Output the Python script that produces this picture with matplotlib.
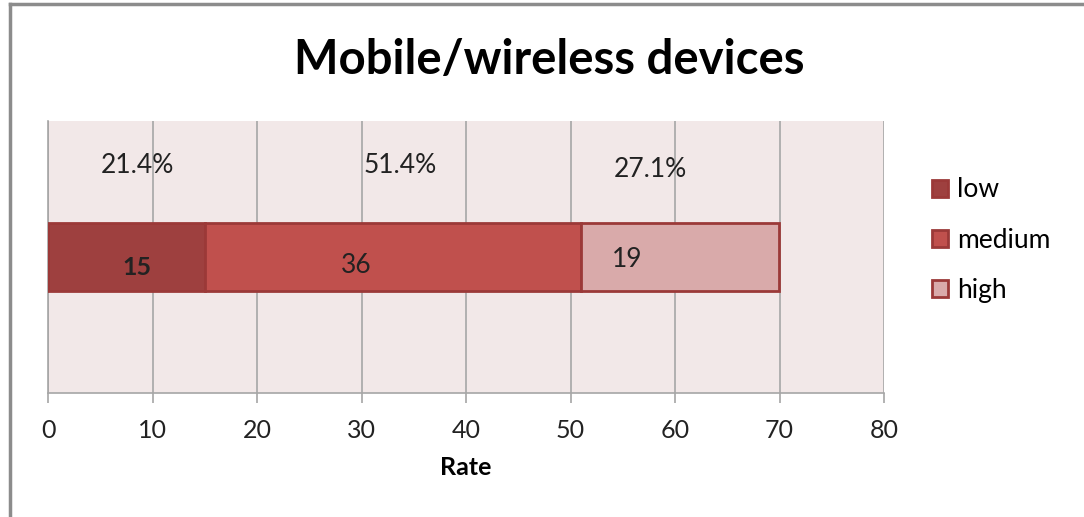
import matplotlib.pyplot as plt

# data
categories = ["low", "medium", "high"]
counts = [15, 36, 19]
percent_labels = ["21.4%", "51.4%", "27.1%"]

# label placement (data units)
pct_x = [8.6, 33.7, 57.6]
pct_y = [1.35, 1.35, 1.28]
val_x = [8.5, 29.5, 55.4]
val_y = [-0.16, -0.12, -0.04]

COLORS = ["#9E403F", "#C0504D", "#D9AAAA"]
EDGE = "#9B3938"
BG = "#F2E8E8"
GRID = "#A6A6A6"

plt.rcParams["font.family"] = ["Lato", "DejaVu Sans"]

fig = plt.figure(figsize=(10.84, 5.17), dpi=100)
ax = fig.add_axes([48 / 1084, 1 - 393 / 517, (884 - 48) / 1084, (393 - 121) / 517])
ax.set_facecolor(BG)

left = 0
for name, c, col in zip(categories, counts, COLORS):
    ax.barh(0, c, left=left, height=1.0, color=col, edgecolor=EDGE, linewidth=2, label=name, zorder=3)
    left += c

for t, x, y in zip(percent_labels, pct_x, pct_y):
    ax.text(x, y, t, ha="center", va="center", fontsize=19, color="#222222", zorder=4)
for i, (c, x, y) in enumerate(zip(counts, val_x, val_y)):
    ax.text(x, y, str(c), ha="center", va="center", fontsize=19 if i else 18,
            weight="bold" if i == 0 else "normal", color="#222222", zorder=4)

ax.set_xlim(0, 80)
ax.set_ylim(-2, 2)
ax.set_xticks(range(0, 81, 10))
ax.set_yticks([])
ax.grid(axis="x", color=GRID, linewidth=1.2, zorder=1)
for s in ["top", "right"]:
    ax.spines[s].set_visible(False)
for s in ["left", "bottom"]:
    ax.spines[s].set_color(GRID)
    ax.spines[s].set_linewidth(1.2)
ax.tick_params(axis="x", length=7, width=1.2, color=GRID, labelsize=18, pad=12, labelcolor="#222222")
ax.set_xlabel("Rate", fontsize=18, weight="bold", labelpad=10)

fig.text(549 / 1084, 1 - 60 / 517, "Mobile/wireless devices", ha="center", va="center",
         fontsize=34, weight="bold")

ax.legend(loc="center left", bbox_to_anchor=(908 / 1084, 1 - 240 / 517), bbox_transform=fig.transFigure,
          frameon=False, fontsize=19, handlelength=0.6, handleheight=0.6, labelspacing=0.95,
          handletextpad=0.35)

# outer chart frame (top and left visible)
fig.add_artist(plt.Line2D([10 / 1084, 10 / 1084], [0, 1 - 4 / 517], transform=fig.transFigure,
                          color="#8C8C8C", linewidth=2.5))
fig.add_artist(plt.Line2D([10 / 1084, 1], [1 - 4 / 517, 1 - 4 / 517], transform=fig.transFigure,
                          color="#8C8C8C", linewidth=2.5))

fig.savefig("out.png", dpi=100, facecolor="white")
